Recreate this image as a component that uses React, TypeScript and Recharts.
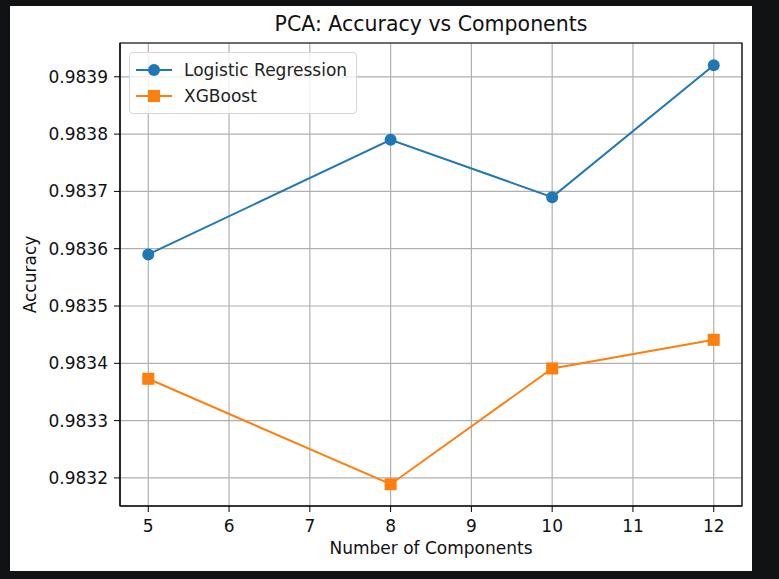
import {
  CartesianGrid,
  Label,
  Legend,
  Line,
  LineChart,
  ReferenceArea,
  XAxis,
  YAxis,
} from "recharts";

const components = [5, 8, 10, 12];
const logisticAcc = [0.98359, 0.98379, 0.98369, 0.98392];
const xgboostAcc = [0.983373, 0.983189, 0.983391, 0.983441];
const xTicks = [5, 6, 7, 8, 9, 10, 11, 12];
const yTicks = [0.9832, 0.9833, 0.9834, 0.9835, 0.9836, 0.9837, 0.9838, 0.9839];
const xDomain = [4.65, 12.35];
const yDomain = [0.983151, 0.983959];

const BLUE = "#1f77b4";
const ORANGE = "#ff7f0e";
const FONT = "'DejaVu Sans', sans-serif";

const points = components.map((c, i) => ({
  n: c,
  lr: logisticAcc[i],
  xgb: xgboostAcc[i],
}));

function SquareDot(props: any) {
  const { cx, cy } = props;
  if (cx == null || cy == null) return null;
  return <rect x={cx - 6} y={cy - 6} width={12} height={12} fill={ORANGE} />;
}

function LegendBox() {
  const rows = [
    { name: "Logistic Regression", color: BLUE, square: false },
    { name: "XGBoost", color: ORANGE, square: true },
  ];
  return (
    <div
      style={{
        background: "rgba(255,255,255,0.8)",
        border: "1px solid #d6d6d6",
        borderRadius: 4,
        padding: "4px 8px 4px 6px",
        fontFamily: FONT,
        fontSize: 17,
        color: "#222",
        width: 212,
        textAlign: "left",
      }}
    >
      {rows.map((r) => (
        <div key={r.name} style={{ display: "flex", alignItems: "center", height: 26 }}>
          <svg width={48} height={16}>
            <line x1={0} y1={8} x2={36} y2={8} stroke={r.color} strokeWidth={2} />
            {r.square ? (
              <rect x={12} y={2} width={12} height={12} fill={r.color} />
            ) : (
              <circle cx={18} cy={8} r={6} fill={r.color} />
            )}
          </svg>
          <span>{r.name}</span>
        </div>
      ))}
    </div>
  );
}

export default function App() {
  return (
    <div
      style={{
        position: "fixed",
        left: 0,
        top: 0,
        width: 779,
        height: 579,
        background: "#111214",
      }}
    >
      <div
        style={{
          position: "absolute",
          left: 10,
          top: 6,
          width: 742,
          height: 565,
          background: "#fff",
        }}
      />
      <div
        style={{
          position: "absolute",
          left: 120,
          width: 622,
          top: 12,
          textAlign: "center",
          fontFamily: FONT,
          fontSize: 20.5,
          color: "#111",
        }}
      >
        PCA: Accuracy vs Components
      </div>
      <div style={{ position: "absolute", left: 0, top: 0 }}>
        <LineChart
          width={779}
          height={579}
          data={points}
          margin={{ top: 43, right: 37, bottom: 13, left: 10 }}
        >
          <CartesianGrid stroke="#b0b0b0" strokeWidth={1.2} />
          <XAxis
            dataKey="n"
            type="number"
            domain={xDomain}
            ticks={xTicks}
            allowDataOverflow
            height={60}
            tickSize={6}
            tickMargin={8}
            stroke="#000"
            tick={{ fill: "#111", fontSize: 17, fontFamily: FONT }}
          >
            <Label
              value="Number of Components"
              position="insideBottom"
              offset={12}
              style={{ fill: "#111", fontSize: 17, fontFamily: FONT }}
            />
          </XAxis>
          <YAxis
            type="number"
            domain={yDomain}
            ticks={yTicks}
            allowDataOverflow
            width={110}
            tickSize={6}
            tickMargin={6}
            stroke="#000"
            tickFormatter={(v: number) => v.toFixed(4)}
            tick={{ fill: "#111", fontSize: 17, fontFamily: FONT }}
          >
            <Label
              value="Accuracy"
              angle={-90}
              position="insideLeft"
              offset={20}
              style={{ fill: "#111", fontSize: 17, fontFamily: FONT, textAnchor: "middle" }}
            />
          </YAxis>
          <ReferenceArea
            x1={xDomain[0]}
            x2={xDomain[1]}
            y1={yDomain[0]}
            y2={yDomain[1]}
            fill="none"
            stroke="#000"
            strokeWidth={1.2}
            ifOverflow="visible"
          />
          <Line
            type="linear"
            dataKey="lr"
            name="Logistic Regression"
            stroke={BLUE}
            strokeWidth={2}
            dot={{ r: 6, fill: BLUE, stroke: "none" }}
            activeDot={false}
            isAnimationActive={false}
          />
          <Line
            type="linear"
            dataKey="xgb"
            name="XGBoost"
            stroke={ORANGE}
            strokeWidth={2}
            dot={<SquareDot />}
            activeDot={false}
            isAnimationActive={false}
          />
          <Legend
            layout="horizontal"
            verticalAlign="middle"
            align="center"
            content={<LegendBox />}
            wrapperStyle={{ position: "absolute", left: 129, top: 52, width: "auto" }}
          />
        </LineChart>
      </div>
    </div>
  );
}
